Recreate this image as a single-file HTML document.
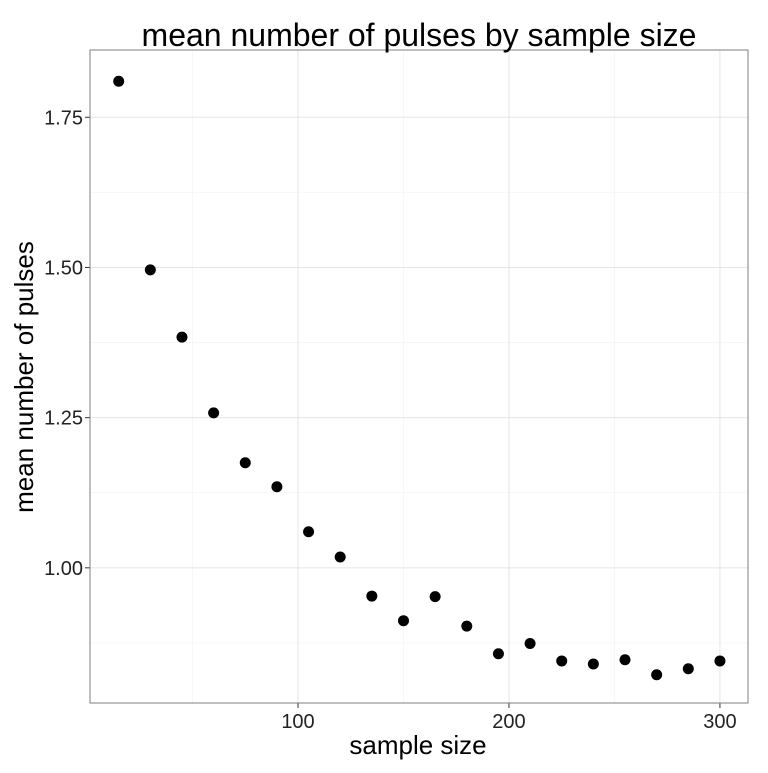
<!DOCTYPE html>
<html><head><meta charset="utf-8"><style>body{margin:0;background:#fff}svg{font-family:"Liberation Sans",sans-serif}</style></head>
<body>
<svg id="chart" width="768" height="768"></svg>
<script>
const sampleSizes=[15,30,45,60,75,90,105,120,135,150,165,180,195,210,225,240,255,270,285,300];
const meanPulses=[1.810,1.496,1.384,1.258,1.175,1.135,1.060,1.018,0.953,0.912,0.952,0.903,0.857,0.874,0.845,0.840,0.847,0.822,0.832,0.845];
const xTicks=[100,200,300];
const xMinor=[50,150,250];
const yTicks=[1.00,1.25,1.50,1.75];
const yMinor=[0.875,1.125,1.375,1.625];
const ns="http://www.w3.org/2000/svg";
const svg=document.getElementById('chart');
const L=90,R=748,T=50,B=703;
const xMin=1.4,xMax=313.3,yMin=0.775,yMax=1.862;
const xs=v=>L+(v-xMin)/(xMax-xMin)*(R-L);
const ys=v=>B-(v-yMin)/(yMax-yMin)*(B-T);
function mk(tag,attrs,name,text){const e=document.createElementNS(ns,tag);for(const k in attrs)e.setAttribute(k,attrs[k]);


if(text!==undefined)e.textContent=text;svg.appendChild(e);return e;}
mk('rect',{x:L,y:T,width:R-L,height:B-T,fill:'#fff'},'plot-panel');
xMinor.forEach(v=>mk('line',{x1:xs(v),x2:xs(v),y1:T,y2:B,stroke:'#f2f2f2','stroke-width':0.6},'x-minor-grid'));
yMinor.forEach(v=>mk('line',{x1:L,x2:R,y1:ys(v),y2:ys(v),stroke:'#f2f2f2','stroke-width':0.6},'y-minor-grid'));
xTicks.forEach(v=>{mk('line',{x1:xs(v),x2:xs(v),y1:T,y2:B,stroke:'#e5e5e5','stroke-width':1},'x-grid');
mk('line',{x1:xs(v),x2:xs(v),y1:B,y2:B+5,stroke:'#333','stroke-width':1},'x-tick');
mk('text',{x:xs(v),y:B+25,'text-anchor':'middle','font-size':20,fill:'#222'},'x-tick-label',String(v));});
yTicks.forEach(v=>{mk('line',{x1:L,x2:R,y1:ys(v),y2:ys(v),stroke:'#e5e5e5','stroke-width':1},'y-grid');
mk('line',{x1:L-5,x2:L,y1:ys(v),y2:ys(v),stroke:'#333','stroke-width':1},'y-tick');
mk('text',{x:L-7,y:ys(v)+7,'text-anchor':'end','font-size':20,fill:'#222'},'y-tick-label',v.toFixed(2));});
mk('rect',{x:L,y:T,width:R-L,height:B-T,fill:'none',stroke:'#7f7f7f','stroke-width':1},'panel-border');
sampleSizes.forEach((s,i)=>mk('circle',{cx:xs(s),cy:ys(meanPulses[i]),r:5.5,fill:'#000'},'data-point'));
mk('text',{x:419,y:46,'text-anchor':'middle','font-size':32,fill:'#000'},'chart-title','mean number of pulses by sample size');
mk('text',{x:418,y:754,'text-anchor':'middle','font-size':26,fill:'#000'},'x-axis-title','sample size');
mk('text',{x:0,y:0,'text-anchor':'middle','font-size':26,fill:'#000',transform:'translate(33,377) rotate(-90)'},'y-axis-title','mean number of pulses');
</script>
</body></html>
